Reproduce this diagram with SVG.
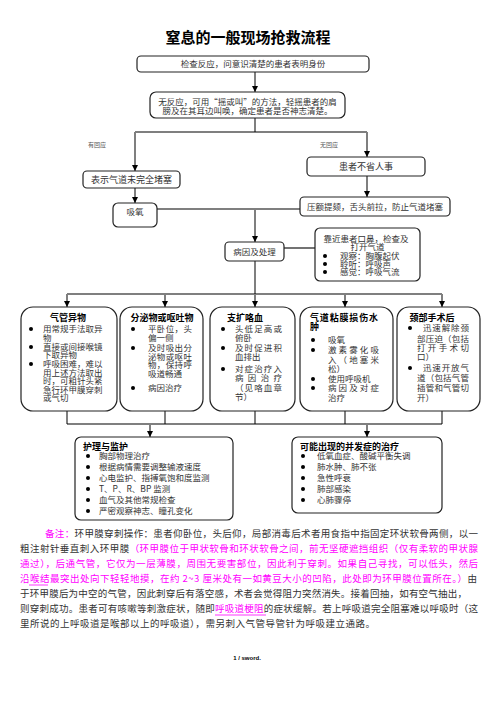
<svg xmlns="http://www.w3.org/2000/svg" width="496" height="702" viewBox="0 0 496 702">
<style>
.bx{fill:#fff;stroke:#222;stroke-width:1.2}
.t{font-family:"Noto Sans CJK SC","Noto Sans",sans-serif;font-size:8.5px;fill:#333}
.h{font-family:"Noto Sans CJK SC",sans-serif;font-size:9px;font-weight:bold;fill:#000}
.m{text-anchor:middle}
.vl{stroke:#7f7f7f;stroke-width:2;fill:none}
.hl{stroke:#000;stroke-width:1.1;fill:none}
.p{font-family:"Noto Sans CJK SC","Noto Sans",sans-serif;font-size:9.5px;fill:#333}
.mg{fill:#ff00ff}
.sm{font-family:"Noto Sans CJK SC",sans-serif;font-size:6px;fill:#555}
</style>
<defs>
<marker id="a" markerWidth="6" markerHeight="6" refX="6" refY="3" orient="auto" markerUnits="userSpaceOnUse"><path d="M0,0 L6,3 L0,6 z" fill="#000"/></marker>
</defs>
<rect width="496" height="702" fill="#fff"/>
<text x="248" y="43" class="m" style="font-family:'Noto Sans CJK SC',sans-serif;font-size:15px;font-weight:bold;fill:#000">窒息的一般现场抢救流程</text>

<g id="connectors">
<line class="vl" x1="255" y1="72" x2="255" y2="92" marker-end="url(#a)"/>
<line class="vl" x1="255" y1="118" x2="255" y2="132"/>
<line class="hl" x1="135" y1="132" x2="367" y2="132"/>
<line class="vl" x1="135" y1="132" x2="135" y2="171" marker-end="url(#a)"/>
<line class="vl" x1="367" y1="132" x2="367" y2="157" marker-end="url(#a)"/>
<line class="vl" x1="135" y1="188" x2="135" y2="203" marker-end="url(#a)"/>
<line class="vl" x1="367" y1="176" x2="367" y2="197" marker-end="url(#a)"/>
<line class="hl" x1="157" y1="209" x2="300" y2="209"/>
<line class="vl" x1="255" y1="209" x2="255" y2="242" marker-end="url(#a)"/>
<line class="hl" x1="284" y1="248" x2="315" y2="248"/>
<line class="vl" x1="255" y1="261" x2="255" y2="294"/>
<line class="hl" x1="67" y1="294" x2="442" y2="294"/>
<line class="vl" x1="67" y1="294" x2="67" y2="307" marker-end="url(#a)"/>
<line class="vl" x1="165" y1="294" x2="165" y2="307" marker-end="url(#a)"/>
<line class="vl" x1="255" y1="294" x2="255" y2="307" marker-end="url(#a)"/>
<line class="vl" x1="345" y1="294" x2="345" y2="307" marker-end="url(#a)"/>
<line class="vl" x1="442" y1="294" x2="442" y2="307" marker-end="url(#a)"/>
<line class="vl" x1="67" y1="411" x2="67" y2="424"/>
<line class="vl" x1="165" y1="411" x2="165" y2="424"/>
<line class="vl" x1="255" y1="411" x2="255" y2="424"/>
<line class="vl" x1="345" y1="411" x2="345" y2="424"/>
<line class="vl" x1="442" y1="411" x2="442" y2="424"/>
<line class="hl" x1="67" y1="424" x2="442" y2="424"/>
<line class="vl" x1="150" y1="424" x2="150" y2="437" marker-end="url(#a)"/>
<line class="vl" x1="367" y1="424" x2="367" y2="437" marker-end="url(#a)"/>
<text x="97" y="147" class="sm m">有回应</text>
<text x="329" y="147" class="sm m">无回应</text>
</g>

<g id="n1"><rect class="bx" x="137" y="56" width="232" height="16" rx="4"/>
<text x="253" y="67" class="t m">检查反应，问意识清楚的患者表明身份</text></g>

<g id="n2"><rect class="bx" x="150" y="92" width="195" height="26" rx="6"/>
<text class="t m"><tspan x="247.5" y="105">无反应，可用“摇或叫”的方法，轻摇患者的肩</tspan><tspan x="247.5" y="114">膀及在其耳边叫唤，确定患者是否神志清楚。</tspan></text></g>

<g id="n3"><rect class="bx" x="83" y="171" width="97" height="17" rx="4"/>
<text x="131.5" y="183" class="t m" style="font-size:9px">表示气道未完全堵塞</text></g>

<g id="n4"><rect class="bx" x="113" y="203" width="44" height="24" rx="5"/>
<text x="135" y="215" class="t m">吸氧</text></g>

<g id="n5"><rect class="bx" x="307" y="157" width="118" height="19" rx="4"/>
<text x="366" y="170" class="t m" style="font-size:9px">患者不省人事</text></g>

<g id="n6"><rect class="bx" x="300" y="197" width="150" height="19" rx="4"/>
<text x="375" y="210" class="t m">压额提颏，舌头前拉，防止气道堵塞</text></g>

<g id="n7"><rect class="bx" x="225" y="242" width="59" height="19" rx="4"/>
<text x="254.5" y="255" class="t m">病因及处理</text></g>

<g id="n8"><rect class="bx" x="315" y="228" width="105" height="53" rx="5"/>
<circle cx="325" cy="256" r="2"/><circle cx="325" cy="264" r="2"/><circle cx="325" cy="272" r="2"/>
<text class="t"><tspan x="323.5" y="242">靠近患者口鼻，检查及</tspan><tspan x="350.5" y="250">打开气道</tspan><tspan x="340" y="259">观察：胸腹起伏</tspan><tspan x="340" y="267">聆听：呼吸声</tspan><tspan x="340" y="275">感觉：呼吸气流</tspan></text></g>

<g id="b1"><rect class="bx" x="21" y="307" width="96" height="104" rx="12"/>
<circle cx="31" cy="329" r="2"/><circle cx="31" cy="347" r="2"/><circle cx="31" cy="364" r="2"/>
<text class="t"><tspan x="50" y="321" class="h">气管异物</tspan><tspan x="43" y="332">用常规手法取异</tspan><tspan x="43" y="341">物</tspan><tspan x="43" y="350">直接或间接喉镜</tspan><tspan x="43" y="358">下取异物</tspan><tspan x="43" y="367">呼吸困难，难以</tspan><tspan x="43" y="376">用上述方法取出</tspan><tspan x="43" y="384">时，可粗针头紧</tspan><tspan x="43" y="393">急行环甲膜穿刺</tspan><tspan x="43" y="401">或气切</tspan></text></g>

<g id="b2"><rect class="bx" x="120" y="307" width="83" height="104" rx="12"/>
<circle cx="133" cy="329" r="2"/><circle cx="133" cy="348" r="2"/><circle cx="133" cy="388" r="2"/>
<text class="t"><tspan x="130.5" y="321" class="h">分泌物或呕吐物</tspan><tspan x="148" y="332" textLength="44">平卧位，头</tspan><tspan x="148" y="341">偏一侧</tspan><tspan x="148" y="351" textLength="44">及时吸出分</tspan><tspan x="148" y="360" textLength="44">泌物或呕吐</tspan><tspan x="148" y="368" textLength="44">物，保持呼</tspan><tspan x="148" y="377">吸道畅通</tspan><tspan x="148" y="391">病因治疗</tspan></text></g>

<g id="b3"><rect class="bx" x="210" y="307" width="85" height="104" rx="12"/>
<circle cx="223" cy="329" r="2"/><circle cx="223" cy="348" r="2"/><circle cx="223" cy="369" r="2"/>
<text class="t"><tspan x="227" y="321" class="h">支扩咯血</tspan><tspan x="235" y="332" textLength="47">头低足高或</tspan><tspan x="235" y="341">俯卧</tspan><tspan x="235" y="351" textLength="47">及时促进积</tspan><tspan x="235" y="360">血排出</tspan><tspan x="235" y="372" textLength="47">对症治疗入</tspan><tspan x="235" y="381" textLength="47">病因治疗</tspan><tspan x="235" y="391" textLength="47">（见咯血章</tspan><tspan x="235" y="400">节）</tspan></text></g>

<g id="b4"><rect class="bx" x="300" y="307" width="93" height="104" rx="12"/>
<circle cx="313" cy="340" r="2"/><circle cx="313" cy="350" r="2"/><circle cx="313" cy="379" r="2"/><circle cx="313" cy="388" r="2"/>
<text class="t"><tspan x="310" y="321" class="h" textLength="68">气道粘膜损伤水</tspan><tspan x="310" y="330" class="h">肿</tspan><tspan x="328" y="343">吸氧</tspan><tspan x="328" y="353" textLength="51">激素雾化吸</tspan><tspan x="328" y="363" textLength="51">入（地塞米</tspan><tspan x="328" y="372">松）</tspan><tspan x="328" y="382">使用呼吸机</tspan><tspan x="328" y="391" textLength="51">病因及对症</tspan><tspan x="328" y="401">治疗</tspan></text></g>

<g id="b5"><rect class="bx" x="397" y="307" width="83" height="104" rx="12"/>
<circle cx="410" cy="328" r="2"/><circle cx="410" cy="368" r="2"/>
<text class="t"><tspan x="409.5" y="321" class="h">颈部手术后</tspan><tspan x="423" y="331" textLength="46">迅速解除颈</tspan><tspan x="417" y="342" textLength="52">部压迫（包括</tspan><tspan x="417" y="351" textLength="52">打开手术切</tspan><tspan x="417" y="360">口）</tspan><tspan x="423" y="371" textLength="46">迅速开放气</tspan><tspan x="417" y="381" textLength="52">道（包括气管</tspan><tspan x="417" y="391" textLength="52">插管和气管切</tspan><tspan x="417" y="401">开）</tspan></text></g>

<g id="c1"><rect class="bx" x="75" y="437" width="158" height="83" rx="6"/>
<circle cx="88" cy="456" r="2"/><circle cx="88" cy="467" r="2"/><circle cx="88" cy="478" r="2"/><circle cx="88" cy="489" r="2"/><circle cx="88" cy="500" r="2"/><circle cx="88" cy="511" r="2"/>
<text class="t"><tspan x="83" y="450" class="h">护理与监护</tspan><tspan x="99" y="459">胸部物理治疗</tspan><tspan x="99" y="470">根据病情需要调整输液速度</tspan><tspan x="99" y="481">心电监护、指搏氧饱和度监测</tspan><tspan x="99" y="492">T、P、R、BP 监测</tspan><tspan x="99" y="503">血气及其他常规检查</tspan><tspan x="99" y="514">严密观察神志、瞳孔变化</tspan></text></g>

<g id="c2"><rect class="bx" x="292" y="437" width="150" height="76" rx="6"/>
<circle cx="303" cy="456" r="2"/><circle cx="303" cy="467" r="2"/><circle cx="303" cy="478" r="2"/><circle cx="303" cy="489" r="2"/><circle cx="303" cy="500" r="2"/>
<text class="t"><tspan x="300" y="450" class="h">可能出现的并发症的治疗</tspan><tspan x="317" y="459">低氧血症、酸碱平衡失调</tspan><tspan x="317" y="470">肺水肿、肺不张</tspan><tspan x="317" y="481">急性呼衰</tspan><tspan x="317" y="492">肺部感染</tspan><tspan x="317" y="503">心肺骤停</tspan></text></g>

<g id="note">
<text x="45" y="537" class="p" textLength="433"><tspan class="mg">备注：</tspan>环甲膜穿刺操作：患者仰卧位，头后仰，局部消毒后术者用食指中指固定环状软骨两侧，以一</text>
<text x="20" y="552" class="p" textLength="458">粗注射针垂直刺入环甲膜<tspan class="mg">（环甲膜位于甲状软骨和环状软骨之间，前无坚硬遮挡组织（仅有柔软的甲状腺</tspan></text>
<text x="20" y="567" class="p mg" textLength="458">通过），后通气管，它仅为一层薄膜，周围无要害部位，因此利于穿刺。如果自己寻找，可以低头，然后</text>
<text x="20" y="582" class="p" textLength="457"><tspan class="mg">沿喉结最突出处向下轻轻地摸，在约 2~3 厘米处有一如黄豆大小的凹陷，此处即为环甲膜位置所在。）</tspan>由</text>
<text x="20" y="597" class="p" textLength="447">于环甲膜后为中空的气管，因此刺穿后有落空感，术者会觉得阻力突然消失。接着回抽，如有空气抽出，</text>
<text x="20" y="612" class="p" textLength="458">则穿刺成功。患者可有咳嗽等刺激症状，随即<tspan class="mg">呼吸道梗阻</tspan>的症状缓解。若上呼吸道完全阻塞难以呼吸时（这</text>
<text x="20" y="627" class="p" textLength="355">里所说的上呼吸道是喉部以上的呼吸道），需另刺入气管导管针为呼吸建立通路。</text>
<line x1="29" y1="585" x2="48" y2="585" stroke="#ff00ff" stroke-width="0.8"/>
<line x1="215" y1="615" x2="266" y2="615" stroke="#ff00ff" stroke-width="0.8"/>
<text x="247" y="660" class="m" style="font-family:'Liberation Sans',sans-serif;font-size:6px;font-weight:bold;fill:#000">1 / sword.</text>
</g>
</svg>
